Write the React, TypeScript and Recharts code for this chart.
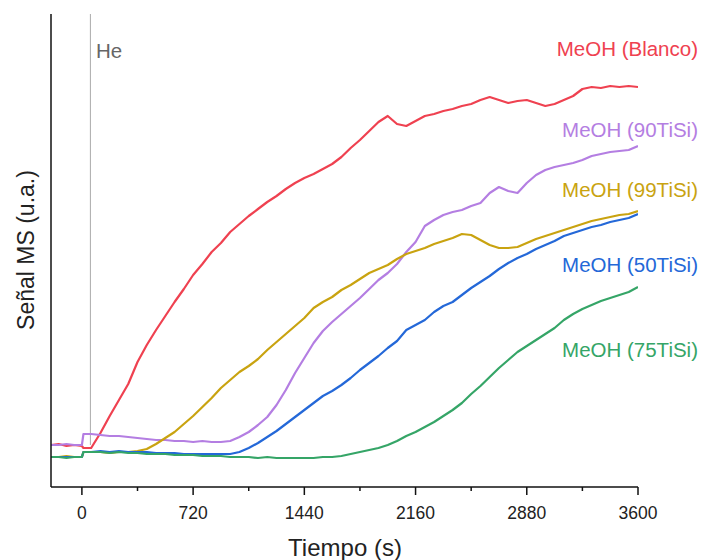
import React from "react";
import { LineChart, Line, XAxis, YAxis, ReferenceLine } from "recharts";

// tiempo (s); salto al pasar a He en t≈10 s
const tiempo = [
  -200, -150, -100, -50, 0, 10, 60, 120, 180, 240, 300, 360, 420, 480, 540, 600, 660, 720,
  780, 840, 900, 960, 1020, 1080, 1140, 1200, 1260, 1320, 1380, 1440, 1500, 1560, 1620, 1680,
  1740, 1800, 1860, 1920, 1980, 2040, 2100, 2160, 2220, 2280, 2340, 2400, 2460, 2520, 2580,
  2640, 2700, 2760, 2820, 2880, 2940, 3000, 3060, 3120, 3180, 3240, 3300, 3360, 3420, 3480,
  3540, 3600,
];

// señal MS (u.a.)
const blanco = [
  42, 43, 41, 42, 41, 39, 39, 54, 71, 87, 103, 125, 142, 157, 171, 185, 198, 212,
  223, 235, 244, 255, 263, 271, 278, 285, 291, 298, 304, 309, 313, 318, 323, 330,
  339, 347, 356, 365, 371, 363, 361, 366, 371, 373, 376, 378, 381, 383, 387,
  390, 387, 384, 386, 387, 384, 381, 383, 387, 391, 398, 400, 399, 401, 400,
  401, 400,
];
const ti90 = [
  42, 42, 43, 42, 42, 53, 53, 52, 51, 51, 50, 49, 48, 47, 47, 46, 46, 45,
  46, 45, 45, 46, 50, 55, 62, 70, 82, 97, 114, 129, 144, 156, 165, 173,
  181, 189, 198, 207, 214, 223, 235, 245, 261, 267, 272, 275, 277, 281, 284,
  294, 300, 296, 294, 304, 312, 317, 320, 322, 324, 327, 331, 333, 335, 336,
  337, 341,
];
const ti99 = [
  30, 30, 31, 30, 30, 35, 35, 35, 34, 35, 35, 36, 38, 43, 49, 55, 63, 71,
  80, 89, 99, 107, 115, 121, 128, 137, 145, 153, 161, 169, 179, 185, 190, 197,
  202, 208, 214, 218, 222, 228, 233, 236, 239, 243, 246, 249, 253, 252, 247,
  242, 239, 239, 240, 244, 248, 251, 254, 257, 260, 263, 266, 268, 270, 272,
  273, 276,
];
const ti50 = [
  30, 30, 30, 30, 30, 35, 35, 36, 35, 36, 35, 35, 35, 34, 34, 34, 33, 33,
  33, 33, 33, 33, 35, 39, 44, 50, 56, 63, 70, 77, 84, 91, 96, 102,
  109, 117, 124, 131, 139, 146, 157, 162, 167, 175, 181, 185, 192, 199, 205,
  211, 218, 224, 229, 233, 238, 242, 246, 251, 254, 257, 260, 262, 265, 267,
  269, 273,
];
const ti75 = [
  30, 30, 29, 30, 30, 35, 35, 35, 34, 35, 34, 34, 33, 33, 33, 32, 32, 32,
  31, 31, 31, 30, 30, 30, 29, 30, 29, 29, 29, 29, 29, 30, 30, 31,
  33, 35, 37, 39, 42, 46, 51, 55, 60, 65, 71, 77, 84, 93, 101,
  110, 119, 127, 135, 141, 147, 153, 159, 167, 173, 178, 182, 186, 189, 192,
  195, 200,
];

const xTicks = [0, 360, 720, 1080, 1440, 1800, 2160, 2520, 2880, 3240, 3600];
const tHe = 55;

const series = [
  { key: "blanco", name: "MeOH (Blanco)", color: "#ef4150", values: blanco, labelY: 56 },
  { key: "ti90", name: "MeOH (90TiSi)", color: "#b47ee2", values: ti90, labelY: 137 },
  { key: "ti99", name: "MeOH (99TiSi)", color: "#c9a310", values: ti99, labelY: 197 },
  { key: "ti50", name: "MeOH (50TiSi)", color: "#2468d8", values: ti50, labelY: 272 },
  { key: "ti75", name: "MeOH (75TiSi)", color: "#35a567", values: ti75, labelY: 357 },
];

const data = tiempo.map((t, i) => {
  const row: Record<string, number> = { t };
  series.forEach((s) => {
    row[s.key] = s.values[i];
  });
  return row;
});

const FONT = "'Liberation Sans', Arial, sans-serif";

const TimeTick = (props: any) => {
  const { x, y, payload } = props;
  const major = payload.value % 720 === 0;
  return (
    <g>
      <line x1={x} x2={x} y1={y} y2={y + (major ? 8 : 4)} stroke="#111" strokeWidth={1.5} />
      {major && (
        <text x={x} y={y + 32} textAnchor="middle" fontSize={17.5} fill="#222" fontFamily={FONT}>
          {payload.value}
        </text>
      )}
    </g>
  );
};

export default function App() {
  return (
    <div style={{ position: "absolute", left: 0, top: 0, background: "#fff" }}>
      <LineChart
        width={703}
        height={560}
        data={data}
        margin={{ top: 14, right: 65, bottom: 0, left: 0 }}
        style={{ fontFamily: FONT }}
      >
        <XAxis
          dataKey="t"
          type="number"
          domain={[-200, 3600]}
          ticks={xTicks}
          allowDataOverflow
          height={73}
          tickSize={0}
          tickMargin={0}
          tickLine={false}
          tick={<TimeTick />}
          axisLine={{ stroke: "#111", strokeWidth: 1.5 }}
          label={{
            content: () => (
              <text x={345} y={556} textAnchor="middle" fontSize={24} fill="#222" fontFamily={FONT}>
                Tiempo (s)
              </text>
            ),
          }}
        />
        <YAxis
          type="number"
          domain={[0, 473]}
          width={51}
          tick={false}
          tickLine={false}
          axisLine={{ stroke: "#111", strokeWidth: 1.5 }}
          label={{
            content: () => (
              <text
                transform="translate(34,250) rotate(-90)"
                textAnchor="middle"
                fontSize={23}
                fill="#222"
                fontFamily={FONT}
              >
                Señal MS (u.a.)
              </text>
            ),
          }}
        />
        <ReferenceLine
          segment={[
            { x: tHe, y: 42 },
            { x: tHe, y: 473 },
          ]}
          stroke="#aaaaaa"
          strokeWidth={1}
          label={{
            content: () => (
              <text x={96} y={58} fontSize={20.5} fill="#666" fontFamily={FONT}>
                He
              </text>
            ),
          }}
        />
        {series.map((s) => (
          <Line
            key={s.key}
            dataKey={s.key}
            type="linear"
            stroke={s.color}
            strokeWidth={2.2}
            strokeLinejoin="round"
            dot={false}
            isAnimationActive={false}
          />
        ))}
        <g>
          {series.map((s) => (
            <text
              key={s.key}
              x={698}
              y={s.labelY}
              textAnchor="end"
              fontSize={20.5}
              fill={s.color}
              fontFamily={FONT}
            >
              {s.name}
            </text>
          ))}
        </g>
      </LineChart>
    </div>
  );
}
